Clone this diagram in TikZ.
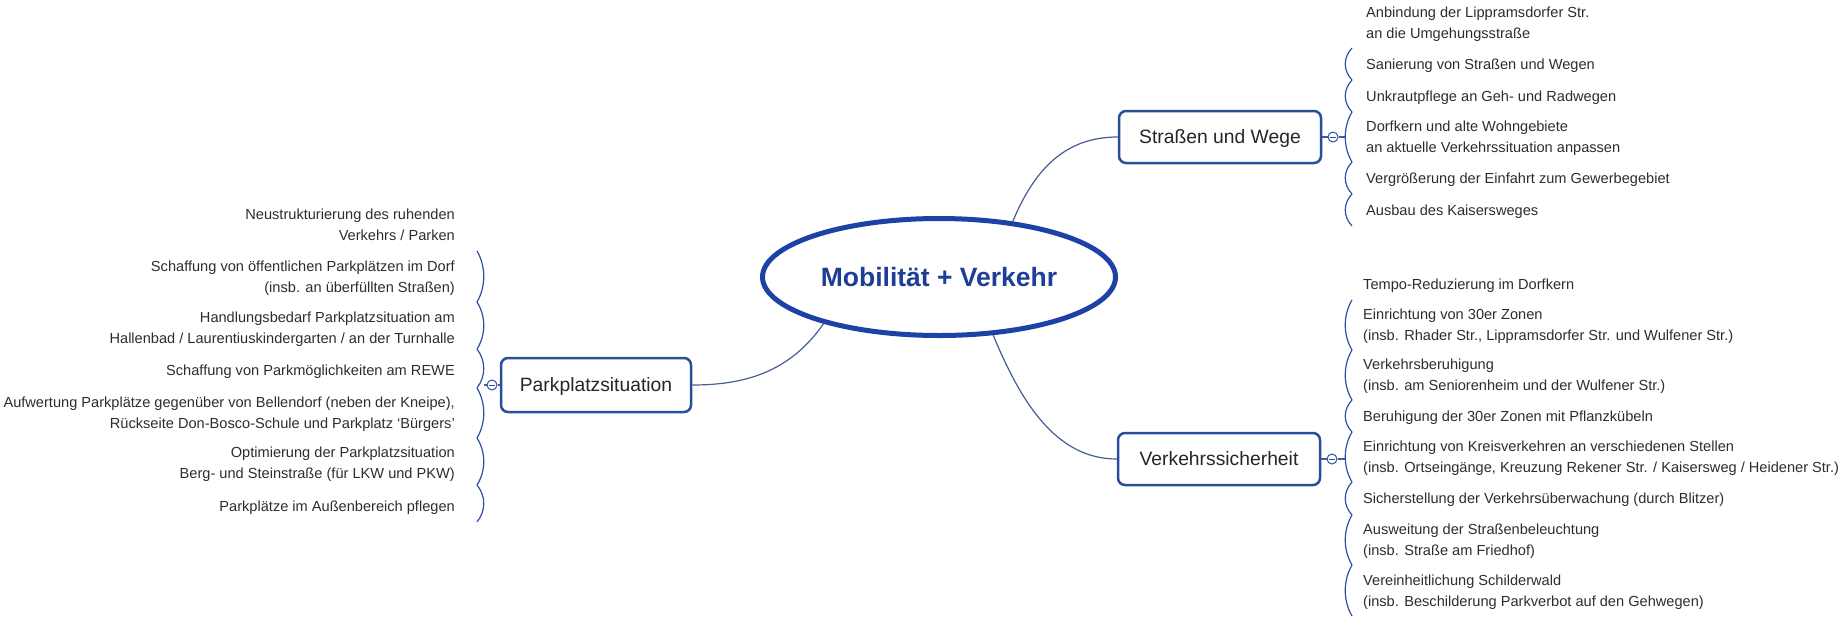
\documentclass[tikz,border=0pt]{standalone}
\usepackage{fontspec}
\setmainfont{Liberation Sans}
\usetikzlibrary{shapes.geometric}
\definecolor{topicblue}{RGB}{28,66,165}
\definecolor{titleblue}{RGB}{30,62,150}
\definecolor{boxblue}{RGB}{40,78,155}
\definecolor{linkblue}{RGB}{70,92,150}
\definecolor{bracketblue}{RGB}{45,80,160}
\definecolor{leafgray}{RGB}{45,45,45}

\begin{document}
\begin{tikzpicture}[x=1pt,y=-1pt,
  leaf/.style={inner sep=0pt, text=leafgray, font=\fontsize{14.6}{21}\selectfont},
  leafR/.style={leaf, anchor=base west, align=left},
  leafL/.style={leaf, anchor=base east, align=right},
  topic/.style={draw=boxblue, line width=2.5pt, rounded corners=7pt, fill=white,
    minimum width=202pt, minimum height=52pt, inner sep=0pt, text=black!85,
    text height=13.8pt, text depth=0pt, font=\fontsize{19.3}{23}\selectfont},
  central/.style={ellipse, draw=topicblue, line width=5pt, minimum width=353pt,
    minimum height=117pt, inner sep=0pt, text=titleblue, text height=19pt,
    text depth=0pt, font=\fontsize{26.5}{30}\selectfont\bfseries},
  link/.style={draw=linkblue, line width=1.2pt},
  brace/.style={draw=bracketblue, line width=1.2pt},
  fold/.style={circle, draw=bracketblue, line width=1pt, fill=white,
    minimum size=10pt, inner sep=0pt},
]
\useasboundingbox (0,0) rectangle (1838,619);

% central topic and main branches
\node[central] (hub) at (939,277) {Mobilität + Verkehr};
\node[topic] (strassen) at (1220,137) {Straßen und Wege};
\node[topic] (sicher) at (1219,459) {Verkehrssicherheit};
\node[topic, minimum width=190pt, minimum height=54pt] (parken) at (596,385) {Parkplatzsituation};

\draw[link] (hub.37) .. controls (1035,168) and (1066,137) .. (strassen.west);
\draw[link] (hub.-47) .. controls (1020,400) and (1055,459) .. (sicher.west);
\draw[link] (hub.202) .. controls (790,372) and (745,385) .. (parken.east);

% collapse markers
\node[fold] (fs) at (1333,137) {};
\node[fold] (fv) at (1332,459) {};
\node[fold] (fp) at (492,385) {};
\foreach \f in {fs,fv,fp}
  \draw[bracketblue, line width=0.9pt] ([xshift=-2.8pt]\f.center) -- ([xshift=2.8pt]\f.center);

\coordinate (ss) at (1345.5,137);
\coordinate (sv) at (1345.5,459);
\coordinate (sp) at (483.5,385);
\draw[link] (strassen.east) -- (fs.west);
\draw[link] (fs.east) -- (ss);
\draw[link] (sicher.east) -- (fv.west);
\draw[link] (fv.east) -- (sv);
\draw[link] (parken.west) -- (fp.east);
\draw[link] (fp.west) -- (sp);

% brace segments, one per item
\foreach \a/\b in {48/80, 80/112, 112/162, 162/194, 194/226}
  \draw[brace] (1352,\a) .. controls (1343,{\a+0.3*(\b-\a)}) and (1343,{\b-0.3*(\b-\a)}) .. (1352,\b);
\foreach \a/\b in {300/350, 350/400, 400/432, 432/482, 482/515, 515/565, 565/616}
  \draw[brace] (1352,\a) .. controls (1343,{\a+0.3*(\b-\a)}) and (1343,{\b-0.3*(\b-\a)}) .. (1352,\b);
\foreach \a/\b in {251/302, 302/349, 349/388, 388/438, 438/485, 485/522}
  \draw[brace] (477,\a) .. controls (486,{\a+0.3*(\b-\a)}) and (486,{\b-0.3*(\b-\a)}) .. (477,\b);

% Straßen und Wege
\node[leafR] (s1) at (1366,38.8) {Anbindung der Lippramsdorfer Str.\\an die Umgehungsstraße};
\node[leafR] (s2) at (1366,69.3) {Sanierung von Straßen und Wegen};
\node[leafR] (s3) at (1366,101.3) {Unkrautpflege an Geh- und Radwegen};
\node[leafR] (s4) at (1366,152.8) {Dorfkern und alte Wohngebiete\\an aktuelle Verkehrssituation anpassen};
\node[leafR] (s5) at (1366,183.3) {Vergrößerung der Einfahrt zum Gewerbegebiet};
\node[leafR] (s6) at (1366,215.3) {Ausbau des Kaisersweges};

% Verkehrssicherheit
\node[leafR] (v1) at (1363,289.3) {Tempo-Reduzierung im Dorfkern};
\node[leafR] (v2) at (1363,340.8) {Einrichtung von 30er Zonen\\(insb. Rhader Str., Lippramsdorfer Str. und Wulfener Str.)};
\node[leafR] (v3) at (1363,390.8) {Verkehrsberuhigung\\(insb. am Seniorenheim und der Wulfener Str.)};
\node[leafR] (v4) at (1363,421.3) {Beruhigung der 30er Zonen mit Pflanzkübeln};
\node[leafR] (v5) at (1363,472.8) {Einrichtung von Kreisverkehren an verschiedenen Stellen\\(insb. Ortseingänge, Kreuzung Rekener Str. / Kaisersweg / Heidener Str.)};
\node[leafR] (v6) at (1363,503.8) {Sicherstellung der Verkehrsüberwachung (durch Blitzer)};
\node[leafR] (v7) at (1363,555.8) {Ausweitung der Straßenbeleuchtung\\(insb. Straße am Friedhof)};
\node[leafR] (v8) at (1363,606.3) {Vereinheitlichung Schilderwald\\(insb. Beschilderung Parkverbot auf den Gehwegen)};

% Parkplatzsituation
\node[leafL] (p1) at (455,240.8) {Neustrukturierung des ruhenden\\Verkehrs / Parken};
\node[leafL] (p2) at (455,292.8) {Schaffung von öffentlichen Parkplätzen im Dorf\\(insb. an überfüllten Straßen)};
\node[leafL] (p3) at (455,343.3) {Handlungsbedarf Parkplatzsituation am\\Hallenbad / Laurentiuskindergarten / an der Turnhalle};
\node[leafL] (p4) at (455,375.8) {Schaffung von Parkmöglichkeiten am REWE};
\node[leafL] (p5) at (455,428.8) {Aufwertung Parkplätze gegenüber von Bellendorf (neben der Kneipe),\\Rückseite Don-Bosco-Schule und Parkplatz `Bürgers'};
\node[leafL] (p6) at (455,478.8) {Optimierung der Parkplatzsituation\\Berg- und Steinstraße (für LKW und PKW)};
\node[leafL] (p7) at (455,511.3) {Parkplätze im Außenbereich pflegen};
\end{tikzpicture}
\end{document}
